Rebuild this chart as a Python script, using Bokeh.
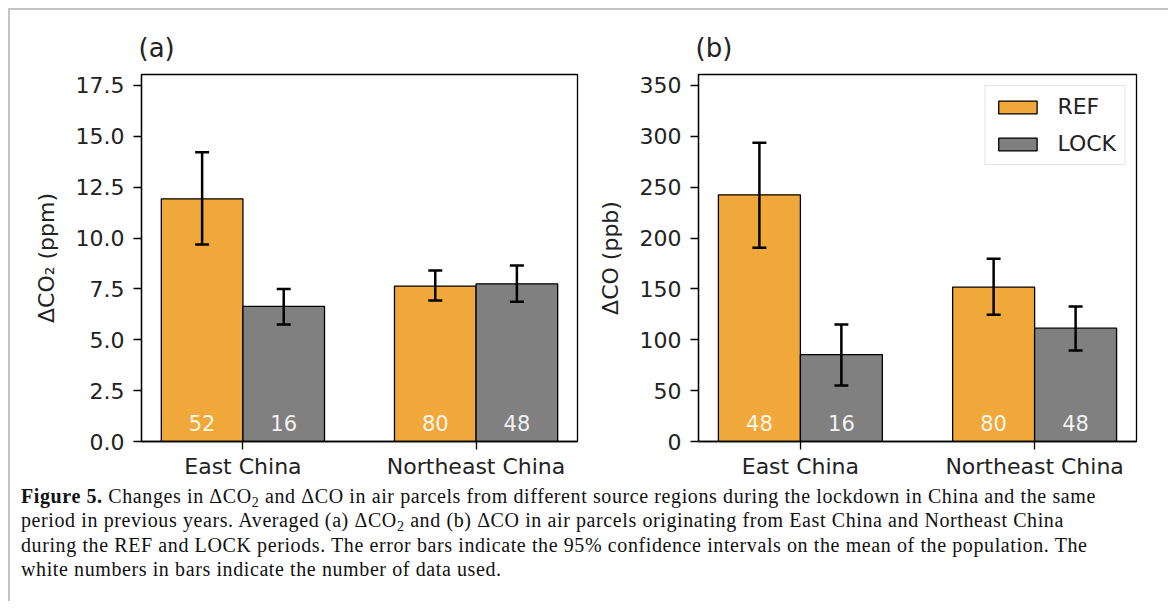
from bokeh.plotting import figure
from bokeh.models import (ColumnDataSource, Whisker, TeeHead, FixedTicker, Range1d,
                          Legend, LegendItem, Div, PrintfTickFormatter)
from bokeh.layouts import row, column
from bokeh.core.properties import value
from bokeh.embed import file_html
from bokeh.resources import INLINE

# ---------------- data ----------------
regions = ["East China", "Northeast China"]
periods = ["REF", "LOCK"]

co2_ref = [11.93, 7.64]
co2_ref_lo = [9.68, 6.93]
co2_ref_hi = [14.22, 8.41]
co2_lock = [6.64, 7.75]
co2_lock_lo = [5.75, 6.87]
co2_lock_hi = [7.50, 8.65]
co2_n_ref = [52, 80]
co2_n_lock = [16, 48]
co2_ticks = [0.0, 2.5, 5.0, 7.5, 10.0, 12.5, 15.0, 17.5]

co_ref = [242.5, 151.7]
co_ref_lo = [190.4, 124.5]
co_ref_hi = [293.6, 179.6]
co_lock = [85.5, 111.4]
co_lock_lo = [55.0, 89.5]
co_lock_hi = [115.0, 132.7]
co_n_ref = [48, 80]
co_n_lock = [16, 48]
co_ticks = [0, 50, 100, 150, 200, 250, 300, 350]

ORANGE = "#F0A83B"
GRAY = "#808080"
FONT = "DejaVu Sans"
BAR_W = 0.35


def make_panel(title, ylabel, ymax, ticks, fmt, ref, ref_lo, ref_hi, lock, lock_lo, lock_hi,
               n_ref, n_lock, left, right, width, legend=False):
    p = figure(width=width, height=476, x_range=Range1d(-0.435, 1.435),
               y_range=Range1d(0, ymax), output_backend="svg", toolbar_location=None,
               min_border_left=left, min_border_right=right, min_border_top=64,
               min_border_bottom=45)
    p.title.text = title
    p.title.text_font = FONT
    p.title.text_font_size = "26px"
    p.title.text_font_style = "normal"
    p.title.text_color = "#222222"
    p.title.align = "left"
    p.title.offset = -3
    p.title.standoff = 24
    p.xgrid.visible = False
    p.ygrid.visible = False
    p.outline_line_color = "black"
    p.outline_line_width = 1.3
    p.outline_line_alpha = 1.0

    idx = list(range(len(regions)))
    src_ref = ColumnDataSource(dict(x=[i - BAR_W / 2 for i in idx], top=ref, lo=ref_lo, hi=ref_hi,
                                    y0=[0] * len(idx), n=[str(v) for v in n_ref]))
    src_lock = ColumnDataSource(dict(x=[i + BAR_W / 2 for i in idx], top=lock, lo=lock_lo, hi=lock_hi,
                                     y0=[0] * len(idx), n=[str(v) for v in n_lock]))
    r_ref = p.vbar(x="x", top="top", width=BAR_W, bottom=0, source=src_ref,
                   fill_color=ORANGE, line_color="black", line_width=1.3)
    r_lock = p.vbar(x="x", top="top", width=BAR_W, bottom=0, source=src_lock,
                    fill_color=GRAY, line_color="black", line_width=1.3)
    for src in (src_ref, src_lock):
        w = Whisker(source=src, base="x", upper="hi", lower="lo", line_width=2.5,
                    line_color="black", level="overlay",
                    upper_head=TeeHead(size=14, line_width=2.5, line_color="black"),
                    lower_head=TeeHead(size=14, line_width=2.5, line_color="black"))
        p.add_layout(w)
        p.text(x="x", y="y0", text="n", source=src, text_color="white", text_alpha=0.92,
               text_align="center", text_baseline="alphabetic", y_offset=-19,
               text_font=value(FONT), text_font_size="21px")

    p.xaxis.ticker = FixedTicker(ticks=idx)
    p.xaxis.major_label_overrides = {i: r for i, r in zip(idx, regions)}
    p.yaxis.ticker = FixedTicker(ticks=ticks)
    p.yaxis.formatter = PrintfTickFormatter(format=fmt)
    p.yaxis.axis_label = ylabel
    for ax in (p.xaxis[0], p.yaxis[0]):
        ax.minor_tick_line_color = None
        ax.major_tick_in = 0
        ax.major_tick_out = 8
        ax.major_tick_line_width = 1.3
        ax.major_tick_line_color = "black"
        ax.axis_line_color = "black"
        ax.axis_line_width = 1.3
        ax.major_label_text_font = FONT
        ax.major_label_text_font_size = "22px"
        ax.major_label_text_color = "#222222"
        ax.axis_label_text_font = FONT
        ax.axis_label_text_font_size = "22px"
        ax.axis_label_text_font_style = "normal"
        ax.axis_label_text_color = "#222222"
        ax.major_label_standoff = 4
    p.yaxis.major_label_standoff = 9
    p.yaxis.axis_label_standoff = 14

    if legend:
        lg = Legend(items=[LegendItem(label=periods[0], renderers=[r_ref]),
                           LegendItem(label=periods[1], renderers=[r_lock])],
                    location="top_right", margin=11, padding=8, spacing=12,
                    glyph_width=48, glyph_height=16, label_height=22, label_standoff=16,
                    label_text_font=FONT, label_text_font_size="22px",
                    label_text_color="#222222",
                    border_line_color="#cccccc", border_line_width=1.2,
                    background_fill_color="white", background_fill_alpha=0.8)
        p.add_layout(lg)
    return p


pa = make_panel("(a)", "ΔCO₂ (ppm)", 18.04, co2_ticks, "%.1f", co2_ref, co2_ref_lo, co2_ref_hi,
                co2_lock, co2_lock_lo, co2_lock_hi, co2_n_ref, co2_n_lock,
                left=131, right=13, width=580)
pb = make_panel("(b)", "ΔCO (ppb)", 360.8, co_ticks, "%d", co_ref, co_ref_lo, co_ref_hi,
                co_lock, co_lock_lo, co_lock_hi, co_n_ref, co_n_lock,
                left=108, right=26, width=572, legend=True)

SUB = "<span style='font-size:0.7em;vertical-align:-0.3em;line-height:0'>2</span>"
caption_html = (
    "<b>Figure 5.</b> Changes in ΔCO" + SUB + " and ΔCO in air parcels from different "
    "source regions during the lockdown in China and the same<br>"
    "period in previous years. Averaged (a) ΔCO" + SUB + " and (b) ΔCO in air parcels "
    "originating from East China and Northeast China<br>"
    "during the REF and LOCK periods. The error bars indicate the 95% confidence intervals on the "
    "mean of the population. The<br>"
    "white numbers in bars indicate the number of data used."
)
caption = Div(text=caption_html, width=1152, height=112,
              styles={"font-family": "Liberation Serif", "font-size": "20px",
                      "line-height": "24.4px", "color": "#111111",
                      "padding-left": "6px", "letter-spacing": "0.6px",
                      "margin-top": "-2px"})

layout = column(row(pa, pb), caption,
                styles={"border-top": "2px solid #c4c4c4", "border-left": "2px solid #c4c4c4",
                        "border-right": "2px solid #c4c4c4",
                        "margin-left": "8px", "margin-top": "8px"})

open("out.html", "w").write(file_html(layout, INLINE))
